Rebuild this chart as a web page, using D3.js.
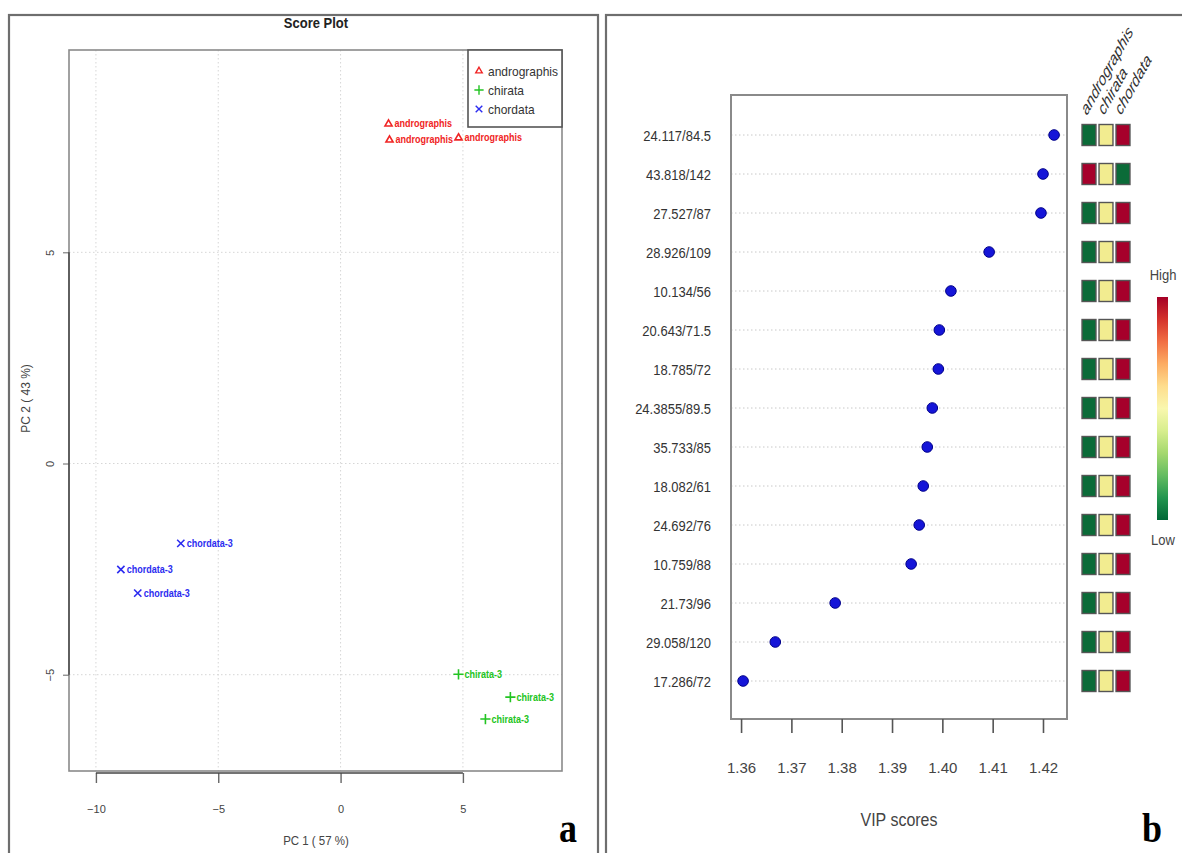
<!DOCTYPE html>
<html>
<head>
<meta charset="utf-8">
<script src="https://cdn.jsdelivr.net/npm/d3@7"></script>
<style>
  body { margin: 0; background: #fff; }
  svg { display: block; font-family: "Liberation Sans", Arial, sans-serif; }
</style>
</head>
<body>
<div id="chart"></div>
<script>
// score plot data
const groups = ['andrographis', 'chirata', 'chordata']
const groupColors = ['#f02424', '#22c422', '#2c2cf0']
const sampleGroup = ['andrographis', 'andrographis', 'andrographis',
  'chirata', 'chirata', 'chirata', 'chordata', 'chordata', 'chordata']
const sampleLabel = ['andrographis', 'andrographis', 'andrographis',
  'chirata-3', 'chirata-3', 'chirata-3', 'chordata-3', 'chordata-3', 'chordata-3']
const pc1 = [1.96, 2.0, 4.82, 4.82, 6.94, 5.92, -6.53, -8.98, -8.29]
const pc2 = [8.04, 7.66, 7.71, -4.99, -5.53, -6.05, -1.89, -2.51, -3.07]
const pcTicksX = [-10, -5, 0, 5]
const pcTicksY = [-5, 0, 5]

// VIP data
const features = ['24.117/84.5', '43.818/142', '27.527/87', '28.926/109', '10.134/56',
  '20.643/71.5', '18.785/72', '24.3855/89.5', '35.733/85', '18.082/61',
  '24.692/76', '10.759/88', '21.73/96', '29.058/120', '17.286/72']
const vip = [1.4222, 1.4200, 1.4196, 1.4093, 1.4017, 1.3994, 1.3992, 1.3980,
  1.3970, 1.3962, 1.3954, 1.3938, 1.3787, 1.3668, 1.3604]
const vipTicks = [1.36, 1.37, 1.38, 1.39, 1.40, 1.41, 1.42]
// relative level per group (0 low, 0.5 mid, 1 high)
const levelAndrographis = [0, 1, 0, 0, 0, 0, 0, 0, 0, 0, 0, 0, 0, 0, 0]
const levelChirata = [0.5, 0.5, 0.5, 0.5, 0.5, 0.5, 0.5, 0.5, 0.5, 0.5, 0.5, 0.5, 0.5, 0.5, 0.5]
const levelChordata = [1, 0, 1, 1, 1, 1, 1, 1, 1, 1, 1, 1, 1, 1, 1]

const W = 1182, H = 853
const svg = d3.select('#chart').append('svg').attr('width', W).attr('height', H)

// panel frames
svg.append('rect').attr('x', 9).attr('y', 15).attr('width', 589).attr('height', H)
  .attr('fill', 'none').attr('stroke', '#6e6e6e').attr('stroke-width', 2.2)
svg.append('rect').attr('x', 606).attr('y', 15).attr('width', 600).attr('height', H)
  .attr('fill', 'none').attr('stroke', '#6e6e6e').attr('stroke-width', 2.2)

// ---------- panel a: score plot ----------
const box = { left: 69, right: 562, top: 50, bottom: 771 }
const x = d3.scaleLinear().domain([-11.1, 9.05]).range([box.left, box.right])
const y = d3.scaleLinear().domain([-7.28, 9.79]).range([box.bottom, box.top])
const color = d3.scaleOrdinal().domain(groups).range(groupColors)
const symbolType = d3.scaleOrdinal().domain(groups)
  .range([d3.symbolTriangle2, d3.symbolPlus, d3.symbolTimes])

const a = svg.append('g')

a.append('text').attr('transform', 'translate(316,28) scale(1,1.15)').attr('text-anchor', 'middle')
  .attr('font-size', 13).attr('font-weight', 'bold').attr('fill', '#222')
  .text('Score Plot')

// grid
a.append('g').selectAll('line').data(pcTicksX).join('line')
  .attr('x1', d => x(d)).attr('x2', d => x(d))
  .attr('y1', box.top).attr('y2', box.bottom)
  .attr('stroke', '#d6d6d6').attr('stroke-dasharray', '1.5,2.5')
a.append('g').selectAll('line').data(pcTicksY).join('line')
  .attr('y1', d => y(d)).attr('y2', d => y(d))
  .attr('x1', box.left).attr('x2', box.right)
  .attr('stroke', '#d6d6d6').attr('stroke-dasharray', '1.5,2.5')

a.append('rect').attr('x', box.left).attr('y', box.top)
  .attr('width', box.right - box.left).attr('height', box.bottom - box.top)
  .attr('fill', 'none').attr('stroke', '#8a8a8a').attr('stroke-width', 1.6)

// axes
const ax = a.append('g').attr('transform', `translate(0,${box.bottom + 2})`)
  .call(d3.axisBottom(x).tickValues(pcTicksX).tickSize(10).tickPadding(22).tickFormat(d3.format('d')))
ax.select('.domain').remove()
ax.append('line').attr('x1', x(-10)).attr('x2', x(5)).attr('stroke', '#444').attr('stroke-width', 1.6)
ax.selectAll('.tick line').attr('stroke', '#666').attr('stroke-width', 1.4)
ax.selectAll('.tick text').attr('font-size', 11).attr('fill', '#444')
  .attr('font-family', '"Liberation Sans", Arial, sans-serif')

const ay = a.append('g').attr('transform', `translate(${box.left},0)`)
  .call(d3.axisLeft(y).tickValues(pcTicksY).tickSize(6).tickFormat(d3.format('d')))
ay.select('.domain').remove()
ay.append('line').attr('y1', y(-5)).attr('y2', y(5)).attr('stroke', '#444').attr('stroke-width', 1.4)
ay.selectAll('.tick line').attr('stroke', '#666')
ay.selectAll('.tick text').attr('font-size', 11).attr('fill', '#444')
  .attr('font-family', '"Liberation Sans", Arial, sans-serif')
  .attr('x', null).attr('dy', null).attr('text-anchor', 'middle')
  .attr('transform', 'translate(-15,0) rotate(-90)')

a.append('text').attr('transform', 'translate(316,845) scale(1,1.15)').attr('text-anchor', 'middle')
  .attr('font-size', 11.5).attr('fill', '#444').text('PC 1 ( 57 %)')
a.append('text').attr('transform', `translate(30,${(box.top + box.bottom) / 2 - 12}) rotate(-90)`)
  .attr('text-anchor', 'middle').attr('font-size', 12).attr('fill', '#444').text('PC 2 ( 43 %)')

// points and labels
const pts = a.append('g').selectAll('g').data(pc1.map((v, i) => i)).join('g')
  .attr('transform', i => `translate(${x(pc1[i])},${y(pc2[i])})`)
pts.append('path')
  .attr('d', i => d3.symbol(symbolType(sampleGroup[i]), 36)())
  .attr('fill', 'none').attr('stroke', i => color(sampleGroup[i])).attr('stroke-width', 1.6)
pts.append('text').attr('transform', 'translate(6,3.5) scale(1,1.2)')
  .attr('font-size', 9).attr('font-weight', 'bold')
  .attr('fill', i => color(sampleGroup[i])).text(i => sampleLabel[i])

// legend
const lg = a.append('g')
lg.append('rect').attr('x', 468).attr('y', box.top).attr('width', box.right - 468).attr('height', 77)
  .attr('fill', '#fff').attr('stroke', '#555').attr('stroke-width', 1.6)
const li = lg.selectAll('g').data(groups).join('g')
  .attr('transform', (d, i) => `translate(479,${71 + i * 19})`)
li.append('path').attr('d', d => d3.symbol(symbolType(d), 30)())
  .attr('fill', 'none').attr('stroke', d => color(d)).attr('stroke-width', 1.4)
li.append('text').attr('transform', 'translate(9,4.5) scale(1,1.1)').attr('font-size', 12)
  .attr('fill', '#333').text(d => d)

a.append('text').attr('transform', 'translate(568,842) scale(1,1.2)').attr('text-anchor', 'middle')
  .attr('font-family', '"Liberation Serif", serif').attr('font-weight', 'bold')
  .attr('font-size', 36).attr('fill', '#000').text('a')

// ---------- panel b: VIP scores ----------
const vb = { left: 731, right: 1067, top: 95, bottom: 719 }
const xv = d3.scaleLinear().domain([1.358, 1.42477]).range([vb.left, vb.right])
const yv = d3.scalePoint().domain(features).range([135, 681])
const b = svg.append('g')

b.append('g').selectAll('line').data(features).join('line')
  .attr('x1', vb.left).attr('x2', vb.right)
  .attr('y1', d => yv(d)).attr('y2', d => yv(d))
  .attr('stroke', '#c8c8c8').attr('stroke-dasharray', '1.5,2.5')

b.append('rect').attr('x', vb.left).attr('y', vb.top)
  .attr('width', vb.right - vb.left).attr('height', vb.bottom - vb.top)
  .attr('fill', 'none').attr('stroke', '#8a8a8a').attr('stroke-width', 2)

b.append('g').selectAll('circle').data(features).join('circle')
  .attr('cx', (d, i) => xv(vip[i])).attr('cy', d => yv(d)).attr('r', 5.3)
  .attr('fill', '#1515d8').attr('stroke', '#00008a').attr('stroke-width', 1)

const byAxis = b.append('g').attr('transform', `translate(${vb.left},0)`)
  .call(d3.axisLeft(yv).tickSize(0).tickPadding(20))
byAxis.select('.domain').remove()
byAxis.selectAll('.tick text').attr('font-size', 13).attr('fill', '#333')
  .attr('font-family', '"Liberation Sans", Arial, sans-serif')
  .attr('dy', null).attr('transform', 'translate(0,5) scale(1,1.12)')

const bx = b.append('g').attr('transform', `translate(0,${vb.bottom})`)
  .call(d3.axisBottom(xv).tickValues(vipTicks).tickSize(14).tickPadding(29).tickFormat(d3.format('.2f')))
bx.select('.domain').remove()
bx.selectAll('.tick line').attr('stroke', '#555').attr('stroke-width', 1.6)
bx.selectAll('.tick text').attr('font-size', 15).attr('fill', '#444')
  .attr('font-family', '"Liberation Sans", Arial, sans-serif')

b.append('text').attr('transform', 'translate(899,826) scale(1,1.1)').attr('text-anchor', 'middle')
  .attr('font-size', 16).attr('fill', '#444').text('VIP scores')

// heat squares
const hx = d3.scaleBand().domain(groups).range([1080.5, 1131.5]).paddingInner(0.18).paddingOuter(0.09)
const heat = d3.scaleLinear().domain([0, 0.5, 1]).range(['#0b6b38', '#f2ec90', '#a6002b'])
const levels = [levelAndrographis, levelChirata, levelChordata]
const cells = []
features.forEach((f, r) => groups.forEach((g, c) => cells.push({ f, g, v: levels[c][r] })))
b.append('g').selectAll('rect').data(cells).join('rect')
  .attr('x', d => hx(d.g)).attr('y', d => yv(d.f) - 10.5)
  .attr('width', hx.bandwidth()).attr('height', 21)
  .attr('fill', d => heat(d.v)).attr('stroke', '#555').attr('stroke-width', 1.4)

// column headers, stretched like the source image
b.append('g').selectAll('text').data(groups).join('text')
  .attr('transform', d => `translate(${hx(d) + hx.bandwidth() / 2 - 2},116) scale(1,1.4) rotate(-52)`)
  .attr('font-size', 13).attr('font-style', 'italic').attr('fill', '#333').text(d => d)

// colour key
const defs = svg.append('defs')
const grad = defs.append('linearGradient').attr('id', 'rdylgn')
  .attr('x1', 0).attr('x2', 0).attr('y1', 0).attr('y2', 1)
grad.selectAll('stop').data(d3.range(0, 1.01, 0.1)).join('stop')
  .attr('offset', d => d).attr('stop-color', d => d3.interpolateRdYlGn(d))
b.append('rect').attr('x', 1157).attr('y', 297).attr('width', 11).attr('height', 223)
  .attr('fill', 'url(#rdylgn)')
b.append('text').attr('transform', 'translate(1163,280) scale(1,1.15)').attr('text-anchor', 'middle')
  .attr('font-size', 13).attr('fill', '#444').text('High')
b.append('text').attr('transform', 'translate(1163,545) scale(1,1.15)').attr('text-anchor', 'middle')
  .attr('font-size', 13).attr('fill', '#444').text('Low')

b.append('text').attr('transform', 'translate(1152,842) scale(1,1.2)').attr('text-anchor', 'middle')
  .attr('font-family', '"Liberation Serif", serif').attr('font-weight', 'bold')
  .attr('font-size', 36).attr('fill', '#000').text('b')
</script>
</body>
</html>
